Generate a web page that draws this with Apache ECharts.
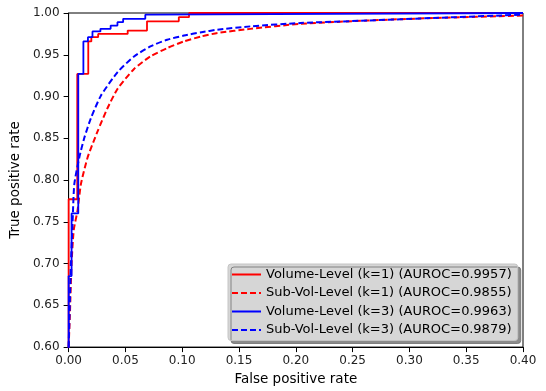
<!DOCTYPE html>
<html>
<head>
<meta charset="utf-8">
<script src="https://cdn.jsdelivr.net/npm/echarts@6/dist/echarts.min.js"></script>
<style>
  html, body { margin: 0; padding: 0; background: #fff; }
  #chart { width: 546px; height: 391px; }
</style>
</head>
<body>
<div id="chart"></div>
<script>
// ROC curve corners (fpr, tpr)
const volK1Fpr = [0, 0, 0.0076, 0.0076, 0.0173, 0.0173, 0.020, 0.020, 0.026, 0.026, 0.052, 0.052, 0.069, 0.069, 0.097, 0.097, 0.106, 0.106, 0.4];
const volK1Tpr = [0, 0.777, 0.777, 0.927, 0.927, 0.966, 0.966, 0.971, 0.971, 0.975, 0.975, 0.979, 0.979, 0.990, 0.990, 0.995, 0.995, 1.0, 1.0];

const subK1Fpr = [0, 0.0011, 0.0026, 0.0045, 0.0079, 0.0108, 0.0167, 0.0254, 0.0342, 0.043, 0.0576, 0.072, 0.0868, 0.1015, 0.117, 0.131, 0.16, 0.204, 0.263, 0.321, 0.4];
const subK1Tpr = [0.6, 0.638, 0.70, 0.74, 0.764, 0.795, 0.827, 0.858, 0.886, 0.909, 0.933, 0.948, 0.958, 0.966, 0.972, 0.976, 0.981, 0.987, 0.991, 0.994, 0.997];

const volK3Fpr = [0, 0, 0.0026, 0.0026, 0.0085, 0.0085, 0.013, 0.013, 0.017, 0.017, 0.021, 0.021, 0.028, 0.028, 0.037, 0.037, 0.043, 0.043, 0.048, 0.048, 0.0675, 0.0675, 0.072, 0.072, 0.4];
const volK3Tpr = [0, 0.685, 0.685, 0.760, 0.760, 0.927, 0.927, 0.966, 0.966, 0.971, 0.971, 0.978, 0.978, 0.981, 0.981, 0.985, 0.985, 0.989, 0.989, 0.993, 0.993, 0.998, 0.998, 1.0, 1.0];

const subK3Fpr = [0, 0.001, 0.002, 0.0035, 0.005, 0.0094, 0.0137, 0.0196, 0.0284, 0.043, 0.0576, 0.072, 0.0868, 0.1015, 0.117, 0.131, 0.16, 0.204, 0.263, 0.321, 0.4];
const subK3Tpr = [0.6, 0.65, 0.70, 0.75, 0.795, 0.827, 0.850, 0.874, 0.901, 0.929, 0.948, 0.960, 0.968, 0.973, 0.977, 0.980, 0.984, 0.988, 0.991, 0.994, 0.998];

const seriesNames = [
  'Volume-Level (k=1) (AUROC=0.9957)',
  'Sub-Vol-Level (k=1) (AUROC=0.9855)',
  'Volume-Level (k=3) (AUROC=0.9963)',
  'Sub-Vol-Level (k=3) (AUROC=0.9879)'
];

const zip = (xs, ys) => xs.map((x, i) => [x, ys[i]]);
const font = 'DejaVu Sans';

const chart = echarts.init(document.getElementById('chart'));

const axisCommon = {
  type: 'value',
  axisLine: { show: true, onZero: false, lineStyle: { color: '#000', width: 1 } },
  axisTick: { show: true, length: 5, lineStyle: { color: '#000', width: 1 } },
  splitLine: { show: false },
  nameLocation: 'middle',
  nameTextStyle: { color: '#000', fontFamily: font, fontSize: 13.5 }
};

const mkLine = (name, data, color, dashed) => ({
  name: name,
  type: 'line',
  data: data,
  showSymbol: false,
  symbol: 'none',
  smooth: dashed ? 0.2 : false,
  animation: false,
  lineStyle: { color: color, width: dashed ? 2 : 1.8, type: dashed ? [6, 3] : 'solid' },
  itemStyle: { color: color }
});

chart.setOption({
  animation: false,
  grid: {
    left: 67, right: 23, top: 13, bottom: 39,
    show: true, borderColor: '#000', borderWidth: 1, backgroundColor: 'transparent'
  },
  xAxis: Object.assign({}, axisCommon, {
    min: 0, max: 0.4, interval: 0.05,
    name: 'False positive rate',
    nameGap: 21,
    axisLabel: {
      color: '#222', fontFamily: font, fontSize: 12, margin: 8,
      formatter: v => v.toFixed(2)
    }
  }),
  yAxis: Object.assign({}, axisCommon, {
    min: 0.6, max: 1.0, interval: 0.05,
    name: 'True positive rate',
    nameGap: 43,
    axisLabel: {
      color: '#222', fontFamily: font, fontSize: 12, margin: 9,
      formatter: v => v.toFixed(2)
    }
  }),
  legend: {
    orient: 'vertical',
    left: 228, top: 264,
    padding: [4, 6, 4, 3],
    itemWidth: 29, itemHeight: 14, itemGap: 5.5,
    backgroundColor: '#d6d6d6',
    borderColor: '#c4c4c4', borderWidth: 1, borderRadius: 3,
    shadowColor: 'rgba(110,110,110,0.8)', shadowOffsetX: 3, shadowOffsetY: 3, shadowBlur: 0,
    itemStyle: { color: 'transparent', borderWidth: 0, opacity: 0 },
    textStyle: { color: '#000', fontFamily: font, fontSize: 13 },
    data: seriesNames
  },
  series: [
    mkLine(seriesNames[0], zip(volK1Fpr, volK1Tpr), '#ff0000', false),
    mkLine(seriesNames[1], zip(subK1Fpr, subK1Tpr), '#ff0000', true),
    mkLine(seriesNames[2], zip(volK3Fpr, volK3Tpr), '#0000ff', false),
    mkLine(seriesNames[3], zip(subK3Fpr, subK3Tpr), '#0000ff', true)
  ]
});
</script>
</body>
</html>
